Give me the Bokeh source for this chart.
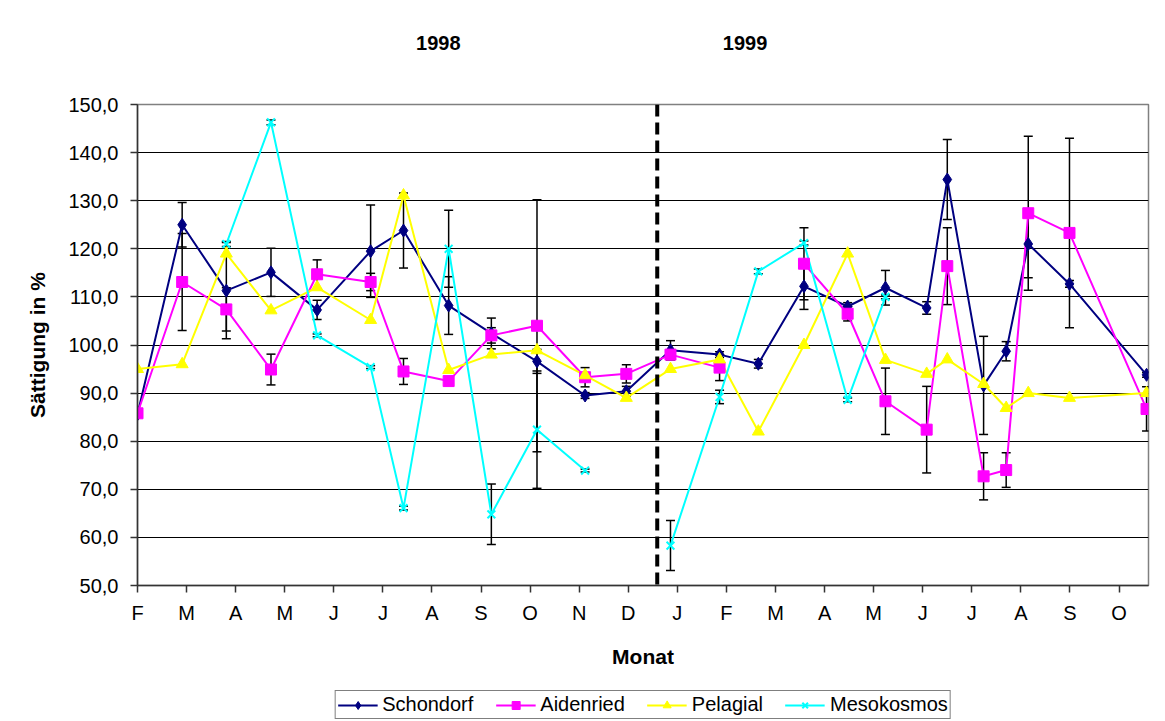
import numpy as np
from bokeh.plotting import figure
from bokeh.layouts import column
from bokeh.models import (ColumnDataSource, Whisker, TeeHead, Span, Label, Legend,
                          LegendItem, FixedTicker, CustomJSTickFormatter, Range1d)
from bokeh.embed import file_html
from bokeh.resources import INLINE

# ---------------- data ----------------
monat_labels = ["F", "M", "A", "M", "J", "J", "A", "S", "O", "N", "D",
                "J", "F", "M", "A", "M", "J", "J", "A", "S", "O"]

# sampling positions in months since Feb 1998
position = [0.00, 0.91, 1.81, 2.72, 3.66, 4.75, 5.42, 6.34, 7.21, 8.14, 9.12, 9.96,
            10.86, 11.86, 12.65, 13.58, 14.47, 15.24, 16.08, 16.50, 17.24, 17.70,
            18.15, 18.99, 20.56]

nan = float("nan")

schondorf = [85.6, 125.0, 111.3, 115.1, 107.3, 119.5, 123.8, 108.2, 102.4, 96.6, 89.5, 90.4,
             98.9, 98.0, 96.1, 112.2, 108.0, 111.9, 107.7, 134.4, 91.6, 98.7,
             121.0, 112.7, 93.8]
schondorf_err = [0.5, 4.6, 10.0, 5.0, 2.0, 9.6, 7.8, 6.0, 3.2, 2.5, 0.6, 1.0,
                 2.0, 0.6, 0.9, 4.8, 0.8, 3.6, 1.3, 8.3, 10.2, 2.0,
                 7.0, 0.7, 0.5]

aidenried = [85.8, 113.1, 107.4, 94.9, 114.7, 113.1, 94.5, 92.5, 102.0, 104.0, 93.3, 94.0,
             98.0, 95.3, nan, 116.9, 106.5, 88.3, 82.4, 116.4, 72.7, 74.0,
             127.4, 123.3, 86.7]
aidenried_err = [0.5, 10.1, 4.5, 3.2, 3.0, 1.8, 2.7, 0.9, 1.6, 26.2, 2.0, 1.9,
                 0.5, 2.7, nan, 7.5, 1.5, 6.9, 9.0, 8.0, 4.9, 3.6,
                 16.0, 19.7, 4.6]

pelagial = [95.0, 96.0, 119.0, 107.2, 112.0, 105.2, 131.1, 94.8, 98.0, 98.9, 93.7, 89.0,
            95.0, 97.0, 82.0, 100.0, 119.0, 96.9, 94.0, 97.0, 91.9, 86.9,
            90.0, 89.0, 90.0]

mesokosmos = [nan, nan, 121.0, 146.3, 102.0, 95.4, 66.1, 120.0, 64.8, 82.4, 73.9, nan,
              58.3, 89.2, 115.3, 121.2, 88.6, 110.0, nan, nan, nan, nan,
              nan, nan, nan]
mesokosmos_err = [nan, nan, 0.5, 0.5, 0.3, 0.3, 0.4, 8.0, 6.3, 12.2, 0.3, nan,
                  5.2, 1.4, 0.5, 0.4, 0.4, 0.4, nan, nan, nan, nan,
                  nan, nan, nan]

jahr_labels = ["1998", "1999"]
jahr_label_pos = [6.13, 12.38]
jahreswechsel = 10.59
y_ticks = [50, 60, 70, 80, 90, 100, 110, 120, 130, 140, 150]

FONT = "Liberation Sans"
LEFT, FW, RIGHT = 137, 1011, 17

x_range = Range1d(0, 20.6)


def blank(fig):
    fig.axis.visible = False
    fig.grid.visible = False
    fig.outline_line_color = None
    fig.background_fill_color = "white"
    fig.border_fill_color = "white"


# ---------------- top strip with year labels ----------------
top = figure(frame_width=FW, frame_height=90, min_border_left=LEFT, min_border_right=RIGHT,
             min_border_top=0, min_border_bottom=0,
             x_range=x_range, y_range=Range1d(0, 90),
             output_backend="svg", toolbar_location=None)
blank(top)
for txt, xpos in zip(jahr_labels, jahr_label_pos):
    top.add_layout(Label(x=xpos, y=48, text=txt, text_align="center", text_baseline="middle",
                         text_font=FONT, text_font_size="20px", text_font_style="bold",
                         text_color="black"))

# ---------------- main chart ----------------
p = figure(frame_width=FW, frame_height=481,
           min_border_left=LEFT, min_border_top=14, min_border_right=RIGHT, min_border_bottom=90,
           x_range=x_range, y_range=Range1d(50, 150),
           output_backend="svg", toolbar_location=None)
p.background_fill_color = "white"
p.border_fill_color = "white"
p.outline_line_color = "#808080"
p.outline_line_width = 1.5

p.xgrid.visible = False
p.ygrid.ticker = FixedTicker(ticks=y_ticks)
p.ygrid.grid_line_color = "black"
p.ygrid.grid_line_width = 1

p.yaxis.ticker = FixedTicker(ticks=y_ticks)
p.yaxis.formatter = CustomJSTickFormatter(code="return tick.toFixed(1).replace('.', ',');")
p.xaxis.ticker = FixedTicker(ticks=list(range(len(monat_labels))))
p.xaxis.major_label_overrides = {i: lab for i, lab in enumerate(monat_labels)}

for ax in (p.xaxis[0], p.yaxis[0]):
    ax.axis_line_color = "#333333"
    ax.axis_line_width = 1.5
    ax.major_tick_line_color = "#333333"
    ax.major_tick_line_width = 1.5
    ax.major_tick_in = 0
    ax.major_tick_out = 7
    ax.minor_tick_line_color = None
    ax.major_label_text_font = FONT
    ax.major_label_text_font_size = "20px"
    ax.major_label_text_color = "black"
    ax.axis_label_text_font = FONT
    ax.axis_label_text_font_size = "21px"
    ax.axis_label_text_font_style = "bold"
    ax.axis_label_text_color = "black"

p.xaxis.axis_label = "Monat"
p.xaxis.major_label_standoff = 9
p.xaxis.axis_label_standoff = 18
p.yaxis.axis_label = "Sättigung in %"
p.yaxis.major_label_standoff = 12
p.yaxis.axis_label_standoff = 16

x = np.array(position)


def err_source(vals, errs):
    v = np.array(vals, dtype=float)
    e = np.array(errs, dtype=float)
    m = ~np.isnan(v) & ~np.isnan(e)
    return ColumnDataSource(dict(x=x[m], upper=(v + e)[m], lower=(v - e)[m]))


series = [
    ("Schondorf", schondorf, schondorf_err, "#000080", "diamond", 13),
    ("Aidenried", aidenried, aidenried_err, "#FF00FF", "square", 11),
    ("Pelagial", pelagial, None, "#FFFF00", "triangle", 12),
    ("Mesokosmos", mesokosmos, mesokosmos_err, "#00FFFF", "x", 11),
]


def draw_line(fig, src, col):
    return fig.line("x", "y", source=src, line_color=col, line_width=2)


def draw_marker(fig, src, col, mk, sz):
    if mk == "x":
        return fig.scatter("x", "y", source=src, marker=mk, size=sz, line_color=col, line_width=2)
    return fig.scatter("x", "y", source=src, marker=mk, size=sz,
                       fill_color=col, line_color=col, line_width=1)


srcs = []
for name, vals, errs, col, mk, sz in series:
    src = ColumnDataSource(dict(x=x, y=np.array(vals, dtype=float)))
    srcs.append(src)
    draw_line(p, src, col)

for name, vals, errs, col, mk, sz in series:
    if errs is not None:
        p.add_layout(Whisker(base="x", upper="upper", lower="lower",
                             source=err_source(vals, errs),
                             dimension="height", line_color="black", line_width=1.5,
                             upper_head=TeeHead(size=9, line_color="black", line_width=1.5),
                             lower_head=TeeHead(size=9, line_color="black", line_width=1.5)))

for (name, vals, errs, col, mk, sz), src in zip(series, srcs):
    draw_marker(p, src, col, mk, sz)

p.add_layout(Span(location=jahreswechsel, dimension="height", line_color="black",
                  line_width=4, line_dash="12 6"))

# ---------------- legend strip ----------------
# the legend strip re-uses the series sources; its ranges keep the marks out of view,
# so only the legend itself is visible there
leg = figure(frame_width=FW, frame_height=46, min_border_left=LEFT, min_border_right=RIGHT,
             min_border_top=0, min_border_bottom=0,
             x_range=Range1d(-1000, -999), y_range=Range1d(-1000, -999),
             output_backend="svg", toolbar_location=None)
blank(leg)
items = []
for (name, vals, errs, col, mk, sz), src in zip(series, srcs):
    ln = draw_line(leg, src, col)
    sc = draw_marker(leg, src, col, mk, sz)
    items.append(LegendItem(label=name, renderers=[ln, sc]))

legend = Legend(items=items, orientation="horizontal", location="top_center")
legend.label_text_font = FONT
legend.label_text_font_size = "20px"
legend.label_text_color = "black"
legend.glyph_width = 40
legend.glyph_height = 20
legend.label_standoff = 5
legend.spacing = 22
legend.padding = 2
legend.margin = 15
legend.border_line_color = "black"
legend.border_line_width = 1
legend.background_fill_color = "white"
leg.add_layout(legend)

layout = column(top, p, leg, spacing=0)
open("out.html", "w").write(file_html(layout, INLINE))
